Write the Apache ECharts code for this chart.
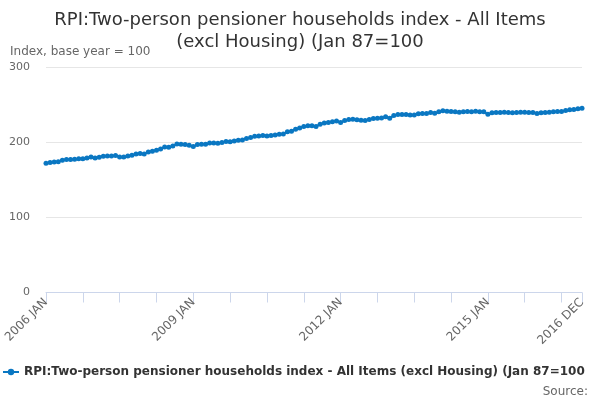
<!DOCTYPE html>
<html>
<head>
<meta charset="utf-8">
<script src="https://cdn.jsdelivr.net/npm/echarts@6/dist/echarts.min.js"></script>
<style>
html,body{margin:0;padding:0;background:#fff;}
#chart{width:600px;height:400px;}
</style>
</head>
<body>
<div id="chart"></div>
<script>
var years = [2006, 2007, 2008, 2009, 2010, 2011, 2012, 2013, 2014, 2015, 2016];
var monthNames = ['JAN','FEB','MAR','APR','MAY','JUN','JUL','AUG','SEP','OCT','NOV','DEC'];
var yTicks = [0, 100, 200, 300];

var v2006 = [172.0, 172.8, 173.7, 174.1, 175.9, 176.8, 176.8, 177.2, 178.1, 178.1, 179.0, 180.3];
var v2007 = [179.0, 179.9, 181.2, 181.7, 181.7, 182.1, 180.3, 180.3, 181.7, 182.5, 184.1, 184.8];
var v2008 = [184.3, 187.0, 187.9, 189.2, 191.0, 193.7, 193.2, 195.0, 197.7, 197.2, 196.8, 195.9];
var v2009 = [194.1, 196.8, 197.2, 197.2, 199.0, 199.0, 198.6, 199.4, 200.8, 200.5, 201.6, 202.5];
var v2010 = [203.0, 204.8, 206.1, 207.9, 208.3, 208.8, 208.3, 208.8, 209.7, 210.6, 211.0, 213.7];
var v2011 = [214.6, 217.2, 219.0, 220.8, 221.7, 221.7, 220.8, 223.9, 225.6, 226.3, 227.0, 228.3];
var v2012 = [226.1, 228.8, 230.1, 230.6, 229.7, 229.2, 228.8, 230.1, 231.4, 231.9, 232.3, 233.7];
var v2013 = [231.9, 235.4, 236.8, 236.8, 236.8, 236.3, 236.3, 237.7, 238.3, 238.1, 239.4, 238.6];
var v2014 = [240.3, 241.7, 241.2, 240.8, 240.3, 239.9, 240.3, 240.8, 240.3, 241.2, 240.3, 240.3];
var v2015 = [237.2, 239.0, 239.4, 239.4, 239.9, 239.4, 239.0, 239.5, 239.9, 239.9, 239.4, 239.4];
var v2016 = [238.1, 239.0, 239.4, 239.9, 240.3, 240.8, 240.8, 242.1, 243.0, 243.4, 244.3, 245.2];

var seriesName = 'RPI:Two-person pensioner households index - All Items (excl Housing) (Jan 87=100';
var titleText = 'RPI:Two-person pensioner households index - All Items\n(excl Housing) (Jan 87=100';
var yAxisTitle = 'Index, base year = 100';
var sourceText = 'Source:';

var categories = [];
years.forEach(function (y) { monthNames.forEach(function (m) { categories.push(y + ' ' + m); }); });
var values = [].concat(v2006, v2007, v2008, v2009, v2010, v2011, v2012, v2013, v2014, v2015, v2016);
var lastIdx = categories.length - 1;

var font = 'DejaVu Sans';
var chart = echarts.init(document.getElementById('chart'), null, {renderer: 'canvas'});
chart.setOption({
  animation: false,
  backgroundColor: '#ffffff',
  title: {
    text: titleText,
    left: 'center',
    top: 4,
    textStyle: {fontFamily: font, fontSize: 18, fontWeight: 'normal', color: '#333333', lineHeight: 22}
  },
  graphic: [
    {type: 'text', left: 10, top: 46, style: {text: yAxisTitle, fontFamily: font, fontSize: 12, fill: '#666666'}},
    {type: 'text', right: 12, top: 386, style: {text: sourceText, fontFamily: font, fontSize: 12, fill: '#666666'}}
  ],
  legend: {
    left: 2,
    top: 366,
    padding: 0,
    itemWidth: 16,
    itemHeight: 8,
    itemGap: 4,
    textStyle: {fontFamily: font, fontSize: 12, fontWeight: 'bold', color: '#333333'},
    data: [seriesName]
  },
  grid: {left: 46, right: 18, top: 67, bottom: 107.5, containLabel: false},
  xAxis: {
    type: 'category',
    data: categories,
    boundaryGap: false,
    axisLine: {lineStyle: {color: '#ccd6eb', width: 1}},
    axisTick: {
      show: true, length: 10,
      lineStyle: {color: '#ccd6eb'},
      interval: function (i) { return i % 9 === 0 || i === lastIdx; }
    },
    axisLabel: {
      rotate: 45,
      fontFamily: font, fontSize: 12, color: '#666666',
      margin: 8,
      interval: function (i) { return i % 36 === 0 || i === lastIdx; }
    },
    splitLine: {show: false}
  },
  yAxis: {
    type: 'value',
    min: yTicks[0],
    max: yTicks[yTicks.length - 1],
    interval: 100,
    axisLine: {show: false},
    axisTick: {show: false},
    axisLabel: {fontFamily: font, fontSize: 11, color: '#666666', margin: 16},
    splitLine: {lineStyle: {color: '#e6e6e6', width: 1}}
  },
  series: [{
    name: seriesName,
    type: 'line',
    data: values,
    color: '#0a77c2',
    lineStyle: {width: 2, color: '#0a77c2'},
    symbol: 'circle',
    symbolSize: 5,
    showSymbol: true,
    showAllSymbol: true,
    itemStyle: {color: '#0a77c2'}
  }]
});
</script>
</body>
</html>
